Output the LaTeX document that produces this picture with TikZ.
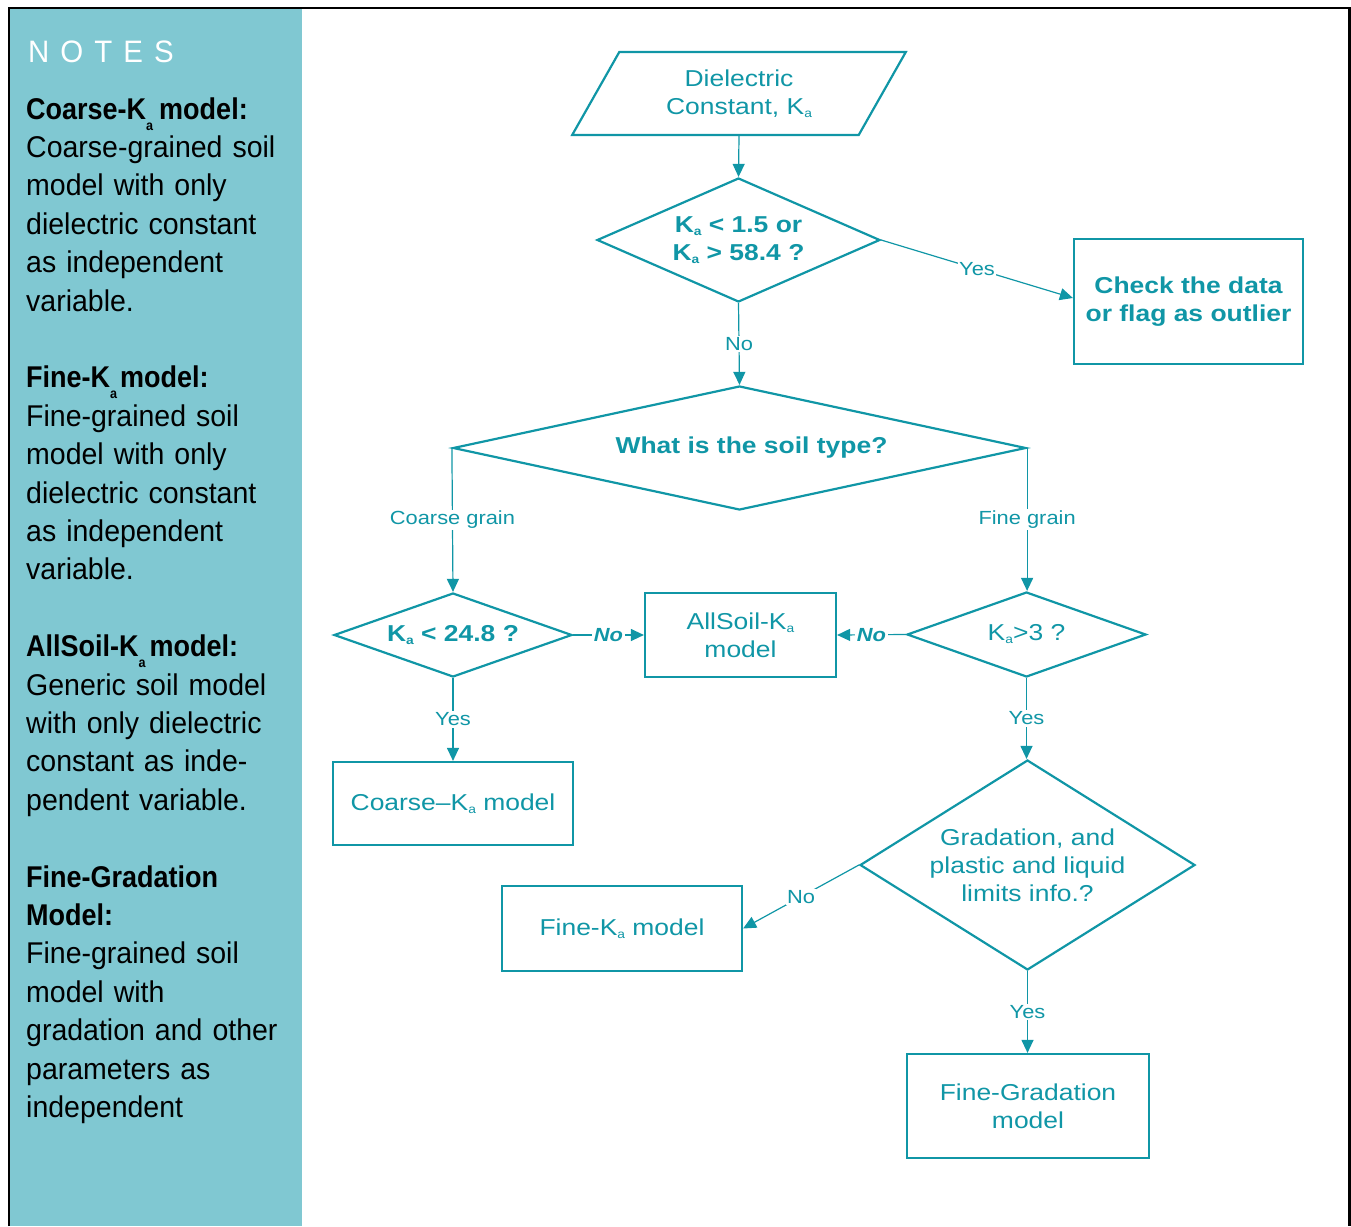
\documentclass[tikz,border=0pt]{standalone}
\usepackage{fontspec}
\setmainfont{Liberation Sans}
\newfontfamily\flowfont[FakeStretch=1.15]{Liberation Sans}
\newfontfamily\sidefont[FakeStretch=0.95]{Liberation Sans}
\newfontfamily\sideboldfont[FakeStretch=0.9]{Liberation Sans}
\usetikzlibrary{shapes.geometric,arrows.meta}
\definecolor{tealc}{RGB}{16,150,166}
\definecolor{sidebg}{RGB}{128,200,210}
\newcommand\fsa{\raisebox{-3pt}{\fontsize{12}{12}\selectfont a}}
\newcommand\ssa{\raisebox{-11pt}{\fontsize{14}{14}\selectfont a}}
\begin{document}
\begin{tikzpicture}[x=1pt,y=-1pt,
  ftext/.style={font=\flowfont\fontsize{23}{28}\selectfont},
  fbold/.style={font=\flowfont\bfseries\fontsize{23}{28}\selectfont},
  box/.style={draw=tealc, line width=2.2pt, rectangle, inner sep=0, text=tealc, ftext, align=center},
  dia/.style={draw=tealc, line width=2.2pt, diamond, inner sep=0, text=tealc, ftext, align=center},
  trap/.style={draw=tealc, line width=2.2pt, trapezium, trapezium left angle=59, trapezium right angle=121,
    trapezium stretches=true, inner sep=0, text=tealc, ftext, align=center},
  conn/.style={draw=tealc, line width=1.2pt, -{Triangle[length=13pt,width=12pt]}},
  lbl/.style={fill=white, inner sep=1.5pt, text=tealc, font=\flowfont\fontsize{19}{22}\selectfont},
  nolbl/.style={lbl, font=\flowfont\bfseries\itshape\fontsize{19}{22}\selectfont},
  sidetext/.style={anchor=north west, inner sep=0, text width=285pt, align=left,
    font=\sidefont\fontsize{30}{38.4}\selectfont}
]
\useasboundingbox (0,0) rectangle (1351,1226);
% sidebar and frame
\fill[sidebg] (10,9) rectangle (302,1226);
\draw[black, line width=2.5pt] (9,1226) -- (9,8) -- (1349.5,8) -- (1349.5,1226);
\node[anchor=base west, text=white, font=\sidefont\fontsize{31}{31}\selectfont, inner sep=0] (notes) at (28,62)
  {N\hspace{11pt}O\hspace{11pt}T\hspace{11pt}E\hspace{11pt}S};
\node[sidetext] (p1) at (26,92.1) {\strut{\sideboldfont\bfseries Coarse-K\ssa\hspace{6pt}model:}\\Coarse-grained soil\\model with only\\dielectric constant\\as independent\\variable.};
\node[sidetext] (p2) at (26,360.9) {\strut{\sideboldfont\bfseries Fine-K\ssa\hspace{3pt}model:}\\Fine-grained soil\\model with only\\dielectric constant\\as independent\\variable.};
\node[sidetext] (p3) at (26,629.7) {\strut{\sideboldfont\bfseries AllSoil-K\ssa\hspace{4pt}model:}\\Generic soil model\\with only dielectric\\constant as inde-\\pendent variable.};
\node[sidetext] (p4) at (26,860.1) {\strut{\sideboldfont\bfseries Fine-Gradation}\\{\sideboldfont\bfseries Model:}\\Fine-grained soil\\model with\\gradation and other\\parameters as\\independent};
% flowchart nodes
\node[trap, minimum width=334pt, minimum height=83pt] (dc) at (739,93.5) {Dielectric\\Constant, K\fsa};
\node[dia, fbold, minimum width=283pt, minimum height=124pt, aspect=2.28] (d1) at (738.5,240) {K\fsa{} < 1.5 or\\K\fsa{} > 58.4 ?};
\node[box, fbold, minimum width=229pt, minimum height=125pt] (check) at (1188.5,301.5) {Check the data\\or flag as outlier};
\node[dia, fbold, minimum width=573pt, minimum height=124pt, aspect=4.6] (d2) at (739.5,448) {\hspace*{24pt}What is the soil type?};
\node[dia, fbold, minimum width=238pt, minimum height=84pt, aspect=2.83] (d3) at (453,635) {K\fsa{} < 24.8 ?};
\node[box, minimum width=191pt, minimum height=84pt] (allsoil) at (740.5,635) {AllSoil-K\fsa\\model};
\node[dia, minimum width=239pt, minimum height=85pt, aspect=2.8] (d4) at (1026.5,634.5) {K\fsa{}>3 ?};
\node[box, minimum width=240pt, minimum height=83pt] (coarse) at (453,803.5) {Coarse–K\fsa{} model};
\node[dia, minimum width=335pt, minimum height=210pt, aspect=1.6] (d5) at (1027.5,865) {Gradation, and\\plastic and liquid\\limits info.?};
\node[box, minimum width=240pt, minimum height=85pt] (finek) at (622,928.5) {Fine-K\fsa{} model};
\node[box, minimum width=242pt, minimum height=104pt] (finegrad) at (1028,1106) {Fine-Gradation\\model};
% connectors
\draw[conn] (dc.center |- dc.south) -- (d1.north);
\draw[conn] (d1.east) -- node[lbl]{Yes} ([yshift=3.5pt]check.west);
\draw[conn] (d1.south) -- node[lbl]{No} (d2.north);
\draw[conn] (d2.west) -- node[lbl]{Coarse grain} (d3.north);
\draw[conn] (d2.east) -- node[lbl]{Fine grain} (d2.east |- d4.north);
\draw[conn] (d3.east) -- node[nolbl]{No} (allsoil.west);
\draw[conn] (d4.west) -- node[nolbl]{No} (allsoil.east);
\draw[conn] (d3.south) -- node[lbl]{Yes} (coarse.north);
\draw[conn] (d4.south) -- node[lbl]{Yes} (d4.south |- d5.north);
\draw[conn] (d5.west) -- node[lbl]{No} (finek.east);
\draw[conn] (d5.south) -- node[lbl]{Yes} (d5.south |- finegrad.north);
\end{tikzpicture}
\end{document}
